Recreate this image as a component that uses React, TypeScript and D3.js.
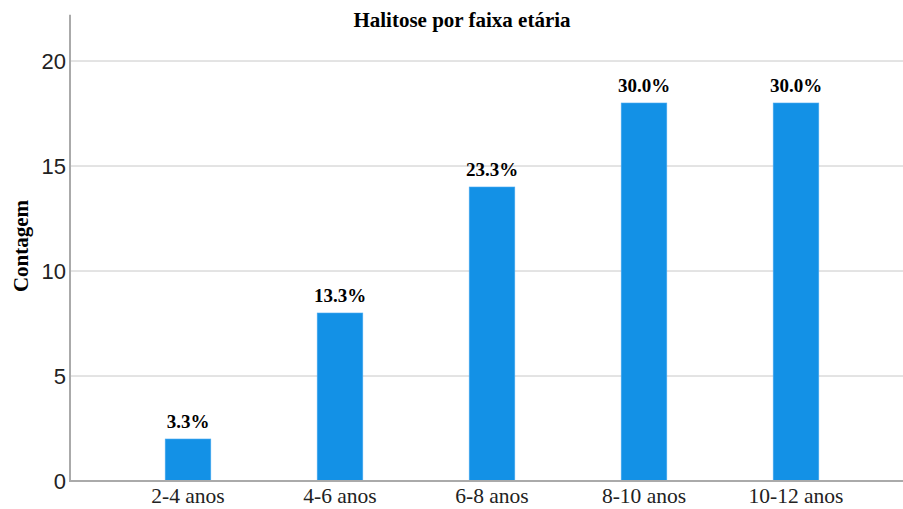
import React from "react";
import * as d3 from "d3";

const categories = ["2-4 anos", "4-6 anos", "6-8 anos", "8-10 anos", "10-12 anos"];
const counts = [2, 8, 14, 18, 18];
const percentLabels = ["3.3%", "13.3%", "23.3%", "30.0%", "30.0%"];
const yTicks = [0, 5, 10, 15, 20];

const W = 903;
const H = 509;

export default function App() {
  const x = d3.scaleBand<string>().domain(categories).range([112, 872]).paddingInner(0.7).paddingOuter(0.35);
  const y = d3.scaleLinear().domain([0, 20]).range([481, 61]);
  const yTop = y(22.2);
  return (
    <svg width={W} height={H} style={{ position: "absolute", left: 0, top: 0, background: "#fff" }}>
      {yTicks.filter(t => t > 0).map(t => (
        <line key={t} x1={70} x2={W} y1={y(t)} y2={y(t)} stroke="#c8c8c8" strokeWidth={1} />
      ))}
      {categories.map((c, i) => (
        <g key={c}>
          <rect x={x(c)!} y={y(counts[i])} width={x.bandwidth()} height={y(0) - y(counts[i])} fill="#1391e6" stroke="#4aaaf0" strokeWidth={0.6} />
          <text x={x(c)! + x.bandwidth() / 2} y={y(counts[i]) - 11} textAnchor="middle" fontFamily="Liberation Serif, serif" fontWeight="bold" fontSize={19} fill="#000">{percentLabels[i]}</text>
          <text x={x(c)! + x.bandwidth() / 2} y={503} textAnchor="middle" fontFamily="Liberation Serif, serif" fontSize={21.5} fill="#222">{c}</text>
        </g>
      ))}
      <line x1={70} x2={W} y1={y(0)} y2={y(0)} stroke="#aaaaaa" strokeWidth={2} />
      <line x1={70} x2={70} y1={yTop} y2={y(0) + 1} stroke="#aaaaaa" strokeWidth={2} />
      {yTicks.map(t => (
        <text key={t} x={66} y={y(t) + 8} textAnchor="end" fontFamily="Liberation Sans, Arial, sans-serif" fontSize={22} fill="#222">{t}</text>
      ))}
      <text x={462} y={27} textAnchor="middle" fontFamily="Liberation Serif, serif" fontWeight="bold" fontSize={21} fill="#000">Halitose por faixa etária</text>
      <text transform={`translate(28, 246) rotate(-90)`} textAnchor="middle" fontFamily="Liberation Serif, serif" fontWeight="bold" fontSize={21} fill="#000">Contagem</text>
    </svg>
  );
}
